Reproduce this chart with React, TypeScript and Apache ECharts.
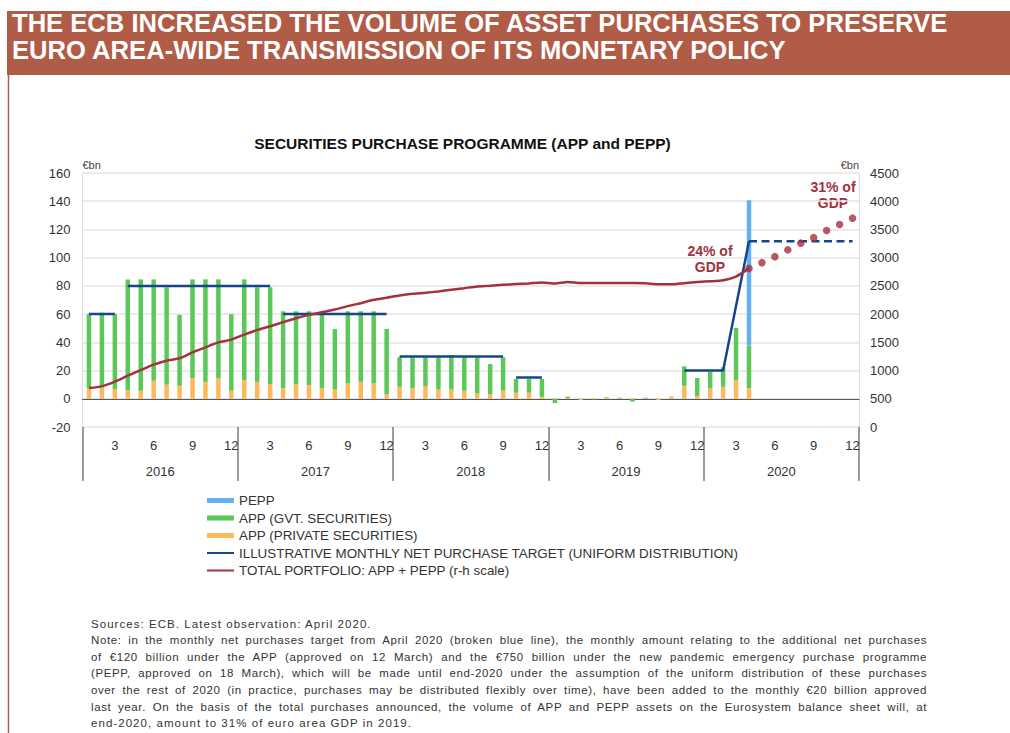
import React, { useEffect, useRef } from 'react';
import * as echarts from 'echarts';

// ---------- categories ----------
const years = ['2016', '2017', '2018', '2019', '2020'];
const monthNumbers = ['01', '02', '03', '04', '05', '06', '07', '08', '09', '10', '11', '12'];
const months = years.flatMap((y) => monthNumbers.map((m) => `${y}-${m}`));
const monthTickLabels = ['3', '6', '9', '12'];

// ---------- monthly net purchases, €bn (Jan 2016 – Apr 2020) ----------
const appPrivate = [
  7.3, 8, 7, 6, 5.7, 12.8, 10, 9.2, 14.5, 12, 14.5, 5.7,
  13.3, 12, 10.4, 7.6, 10.4, 9.7, 7.6, 6.6, 10.9, 12, 10.9, 3.3,
  8.5, 7.6, 9, 6.6, 6.6, 5.7, 3.8, 3.3, 5.7, 4.3, 4.3, 1.4,
  0.3, 0.5, -0.8, 0.3, 0.5, 0.3, 0.3, 0.3, -0.8, 1.5, 9.2, 2,
  7.3, 8.5, 13.3, 7.6,
];
const appGovt = [
  52.7, 53, 53, 78.6, 78.9, 71.8, 69, 50.3, 70.1, 72.6, 70.1, 54.3,
  71.3, 67, 68.6, 54.4, 51.6, 52.3, 51.9, 42.9, 51.1, 50, 51.1, 46.2,
  20.9, 21.8, 20.4, 22.8, 24.4, 23.7, 25.6, 21.3, 23.7, 9.7, 9.7, 12.6,
  -3, 1, 0.2, -0.5, 0.5, 0.5, -2, 0.5, 0.2, 0.2, 13.8, 12.7,
  11.7, 13.8, 36.9, 30.1,
];
const peppPurchases: [string, number][] = [['2020-04', 103]];

// ---------- total portfolio, €bn (right-hand scale) ----------
const portfolio = [
  690, 720, 803, 909, 1009, 1105, 1175, 1217, 1323, 1412, 1500, 1548,
  1637, 1720, 1785, 1857, 1927, 1987, 2034, 2082, 2141, 2194, 2253, 2289,
  2330, 2360, 2378, 2402, 2432, 2460, 2490, 2502, 2520, 2532, 2544, 2562,
  2544, 2568, 2550, 2550, 2550, 2550, 2550, 2545, 2528, 2528, 2548, 2570,
  2582, 2600, 2665, 2810,
];
const projectionStart = '2020-04';
const portfolioProjection = [2810, 2912, 3018, 3138, 3257, 3355, 3480, 3587, 3700];

// ---------- illustrative monthly net purchase target (breakpoints) ----------
const targetSegments: [string, number][][] = [
  [['2016-01', 60], ['2016-03', 60]],
  [['2016-04', 80], ['2017-03', 80]],
  [['2017-04', 60], ['2017-12', 60]],
  [['2018-01', 30], ['2018-09', 30]],
  [['2018-10', 15], ['2018-12', 15]],
  [['2019-11', 20], ['2020-02', 20], ['2020-04', 111.6]],
];
const targetProjected: [string, number][] = [['2020-04', 111.6], ['2020-12', 111.6]];

// ---------- texts ----------
const headline = [
  'THE ECB INCREASED THE VOLUME OF ASSET PURCHASES TO PRESERVE',
  'EURO AREA-WIDE TRANSMISSION OF ITS MONETARY POLICY',
];
const chartTitle = 'SECURITIES PURCHASE PROGRAMME (APP and PEPP)';
const nameTarget = 'ILLUSTRATIVE MONTHLY NET PURCHASE TARGET (UNIFORM DISTRIBUTION)';
const namePortfolio = 'TOTAL PORTFOLIO: APP + PEPP (r-h scale)';
const noteLines = [
  'Note: in the monthly net purchases target from April 2020 (broken blue line), the monthly amount relating to the additional net purchases',
  'of €120 billion under the APP (approved on 12 March) and the €750 billion under the new pandemic emergency purchase programme',
  '(PEPP, approved on 18 March), which will be made until end-2020 under the assumption of the uniform distribution of these purchases',
  'over the rest of 2020 (in practice, purchases may be distributed flexibly over time), have been added to the monthly €20 billion approved',
  'last year. On the basis of the total purchases announced, the volume of APP and PEPP assets on the Eurosystem balance sheet will, at',
];
const noteLast = 'end-2020, amount to 31% of euro area GDP in 2019.';
const sourceLine = 'Sources: ECB. Latest observation: April 2020.';

// ---------- colours ----------
const C_BAND = '#B15C47';
const C_PEPP = '#62B2F2';
const C_GOVT = '#5DC85A';
const C_PRIV = '#FDB85A';
const C_TARGET = '#15468C';
const C_RED = '#A3313F';
const C_TEXT = '#333333';
const FONT = 'Liberation Sans, Arial, Helvetica, sans-serif';

const padFrom = (arr: number[], start: string) => {
  const s = months.indexOf(start);
  return months.map((_, i) => (i - s >= 0 && i - s < arr.length ? arr[i - s] : null));
};
const fromPoints = (pts: [string, number][]) =>
  months.map((m) => {
    const p = pts.find((q) => q[0] === m);
    return p ? p[1] : null;
  });

export default function App() {
  const ref = useRef<HTMLDivElement>(null);

  useEffect(() => {
    if (!ref.current) return;
    const chart = echarts.init(ref.current, null, { renderer: 'svg' });

    const targetSeries = targetSegments.map((seg) => ({
      name: nameTarget,
      type: 'line',
      data: fromPoints(seg),
      connectNulls: true,
      symbol: 'none',
      xAxisIndex: 0,
      yAxisIndex: 0,
      lineStyle: { color: C_TARGET, width: 2.5 },
      itemStyle: { color: C_TARGET },
      z: 4,
    }));

    const option: any = {
      animation: false,
      backgroundColor: '#ffffff',
      textStyle: { fontFamily: FONT },
      grid: { left: 82.5, right: 151, top: 173, bottom: 306, containLabel: false },
      legend: {
        orient: 'vertical',
        left: 206,
        top: 493.5,
        padding: 0,
        itemWidth: 27,
        itemHeight: 5,
        itemGap: 3.5,
        selectedMode: false,
        textStyle: { fontSize: 13.4, color: C_TEXT, lineHeight: 14, fontFamily: FONT },
        data: [
          { name: 'PEPP', icon: 'rect' },
          { name: 'APP (GVT. SECURITIES)', icon: 'rect' },
          { name: 'APP (PRIVATE SECURITIES)', icon: 'rect' },
          { name: nameTarget, itemStyle: { opacity: 0 } },
          { name: namePortfolio, itemStyle: { opacity: 0 } },
        ],
      },
      xAxis: [
        {
          type: 'category',
          data: months,
          position: 'bottom',
          axisLine: { show: false, onZero: false },
          axisTick: { show: false },
          splitLine: { show: false },
          axisLabel: {
            interval: 0,
            margin: 12,
            fontSize: 13,
            color: C_TEXT,
            formatter: (v: string) => {
              const m = String(Number(v.slice(5)));
              return monthTickLabels.includes(m) ? m : '';
            },
          },
        },
        {
          type: 'category',
          data: years,
          position: 'bottom',
          axisLine: { show: false, onZero: false },
          axisTick: { show: true, length: 54, lineStyle: { color: '#7a7a7a', width: 1.5 } },
          splitLine: { show: false },
          axisLabel: { margin: 38, fontSize: 13, color: C_TEXT },
        },
        {
          type: 'category',
          data: months,
          position: 'bottom',
          axisLine: { show: true, onZero: true, onZeroAxisIndex: 0, lineStyle: { color: '#555555', width: 1 } },
          axisTick: { show: false },
          axisLabel: { show: false },
          splitLine: { show: false },
        },
      ],
      yAxis: [
        {
          type: 'value',
          min: -20,
          max: 160,
          interval: 20,
          position: 'left',
          name: '€bn',
          nameLocation: 'end',
          nameGap: 3,
          nameTextStyle: { align: 'left', fontSize: 11, color: '#444' },
          axisLine: { show: true, lineStyle: { color: '#dddddd', width: 1 } },
          axisTick: { show: false },
          axisLabel: { margin: 12, fontSize: 13, color: C_TEXT },
          splitLine: { show: true, lineStyle: { color: '#e6e6e6', width: 1.5 } },
        },
        {
          type: 'value',
          min: 0,
          max: 4500,
          interval: 500,
          position: 'right',
          name: '€bn',
          nameLocation: 'end',
          nameGap: 3,
          nameTextStyle: { align: 'right', fontSize: 11, color: '#444' },
          axisLine: { show: true, lineStyle: { color: '#dddddd', width: 1 } },
          axisTick: { show: false },
          axisLabel: { margin: 11, fontSize: 13, color: C_TEXT, formatter: (v: number) => String(v) },
          splitLine: { show: false },
        },
      ],
      series: [
        {
          name: 'APP (PRIVATE SECURITIES)',
          type: 'bar',
          stack: 'purchases',
          barWidth: 4.5,
          data: padFrom(appPrivate, '2016-01'),
          itemStyle: { color: C_PRIV },
        },
        {
          name: 'APP (GVT. SECURITIES)',
          type: 'bar',
          stack: 'purchases',
          barWidth: 4.5,
          data: padFrom(appGovt, '2016-01'),
          itemStyle: { color: C_GOVT },
        },
        {
          name: 'PEPP',
          type: 'bar',
          stack: 'purchases',
          barWidth: 4.5,
          data: fromPoints(peppPurchases),
          itemStyle: { color: C_PEPP },
        },
        ...targetSeries,
        {
          name: nameTarget,
          type: 'line',
          data: fromPoints(targetProjected),
          connectNulls: true,
          symbol: 'none',
          lineStyle: { color: C_TARGET, width: 2.5, type: [8, 4.5] },
          z: 4,
        },
        {
          name: namePortfolio,
          type: 'line',
          yAxisIndex: 1,
          data: padFrom(portfolio, '2016-01'),
          symbol: 'none',
          smooth: 0.2,
          lineStyle: { color: C_RED, width: 2.5 },
          itemStyle: { color: C_RED },
          z: 5,
        },
        {
          name: 'Projected portfolio',
          type: 'scatter',
          yAxisIndex: 1,
          data: padFrom(portfolioProjection, projectionStart),
          symbol: 'circle',
          symbolSize: 7.5,
          itemStyle: { color: C_RED },
          z: 6,
        },
      ],
      graphic: [
        { type: 'rect', shape: { x: 7, y: 11, width: 1003, height: 64 }, style: { fill: C_BAND }, silent: true },
        { type: 'line', shape: { x1: 8.5, y1: 75, x2: 8.5, y2: 733 }, style: { stroke: C_BAND, lineWidth: 1.5 }, silent: true },
        {
          type: 'text', x: 12, y: 23,
          style: { text: headline[0], fill: '#ffffff', font: `bold 25.6px ${FONT}`, textVerticalAlign: 'middle' },
        },
        {
          type: 'text', x: 12, y: 50,
          style: { text: headline[1], fill: '#ffffff', font: `bold 25.6px ${FONT}`, textVerticalAlign: 'middle' },
        },
        {
          type: 'text', x: 462.5, y: 143,
          style: { text: chartTitle, fill: '#111', font: `bold 15.5px ${FONT}`, textAlign: 'center', textVerticalAlign: 'middle' },
        },
        {
          type: 'text', x: 710, y: 259,
          style: { text: '24% of\nGDP', fill: C_RED, font: `bold 14px ${FONT}`, lineHeight: 16, textAlign: 'center', textVerticalAlign: 'middle' },
        },
        {
          type: 'text', x: 833, y: 195,
          style: { text: '31% of\nGDP', fill: C_RED, font: `bold 14px ${FONT}`, lineHeight: 16, textAlign: 'center', textVerticalAlign: 'middle' },
        },
      ],
    };

    chart.setOption(option);
    return () => chart.dispose();
  }, []);

  const lineStyle: React.CSSProperties = {
    height: 16.6,
    lineHeight: '16.6px',
    whiteSpace: 'nowrap',
  };
  return (
    <div style={{ position: 'absolute', left: 0, top: 0, width: 1010, height: 733, background: '#fff', overflow: 'hidden' }}>
      <div ref={ref} style={{ position: 'absolute', left: 0, top: 0, width: 1010, height: 733 }} />
      <div
        style={{
          position: 'absolute',
          left: 91,
          top: 615.7,
          width: 836,
          fontFamily: FONT,
          fontSize: 11.5,
          letterSpacing: 0.6,
          color: C_TEXT,
        }}
      >
        <div style={{ ...lineStyle, textAlign: 'left', letterSpacing: 1.05 }}>{sourceLine}</div>
        {noteLines.map((t, i) => (
          <div key={i} style={{ ...lineStyle, whiteSpace: 'normal', overflow: 'hidden', textAlign: 'justify', textAlignLast: 'justify' }}>{t}</div>
        ))}
        <div style={{ ...lineStyle, textAlign: 'left', letterSpacing: 1.05 }}>{noteLast}</div>
      </div>
    </div>
  );
}
